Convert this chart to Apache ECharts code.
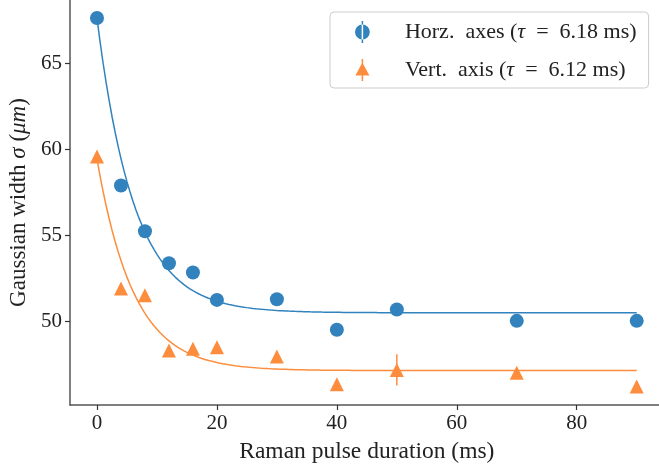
<!DOCTYPE html>
<html>
<head>
<meta charset="utf-8">
<script src="https://cdn.jsdelivr.net/npm/echarts@6/dist/echarts.min.js"></script>
<style>html,body{margin:0;padding:0;background:#fff}#c{width:659px;height:469px}</style>
</head>
<body>
<div id="c"></div>
<script>
// ---- data ----
var durations = [0, 4, 8, 12, 16, 20, 30, 40, 50, 70, 90];
var horzWidth = [67.62, 57.89, 55.23, 53.37, 52.83, 51.24, 51.28, 49.50, 50.68, 50.02, 50.02];
var horzErr   = [0, 0, 0, 0, 0, 0, 0, 0, 0, 0, 0];
var vertWidth = [59.58, 51.90, 51.51, 48.30, 48.40, 48.49, 47.95, 46.34, 47.17, 47.00, 46.20];
var vertErr   = [0, 0, 0, 0, 0, 0, 0, 0, 0.91, 0, 0];
// exponential fit parameters: y = A*exp(-t/tau) + C
var horzFit = {A: 17.12, tau: 6.18, C: 50.49};
var vertFit = {A: 12.30, tau: 6.12, C: 47.13};
var xTicks = [0, 20, 40, 60, 80];
var yTicks = [50, 55, 60, 65];
var horzName = 'Horz.  axes ({i|τ}\u2002=\u20026.18 ms)';
var vertName = 'Vert.  axis ({i|τ}\u2002=\u20026.12 ms)';
var blue = '#3182bd', orange = '#fd8d3c';

function fitCurve(p) {
  var pts = [];
  for (var i = 0; i <= 180; i++) {
    var t = i * 0.5;
    pts.push([t, p.A * Math.exp(-t / p.tau) + p.C]);
  }
  return pts;
}
function pairs(xs, ys) { return xs.map(function (x, i) { return [x, ys[i]]; }); }
function errData(xs, ys, es) {
  var out = [];
  xs.forEach(function (x, i) { if (es[i] > 0) out.push([x, ys[i], es[i]]); });
  return out;
}
function errSeries(data, color) {
  return {
    type: 'custom', silent: true, z: 3,
    data: data,
    renderItem: function (params, api) {
      var x = api.value(0), y = api.value(1), e = api.value(2);
      var p1 = api.coord([x, y - e]), p2 = api.coord([x, y + e]);
      return {type: 'line', shape: {x1: p1[0], y1: p1[1], x2: p2[0], y2: p2[1]},
              style: {stroke: color, lineWidth: 1.5}};
    }
  };
}

var FONT = 'Liberation Serif';
var chart = echarts.init(document.getElementById('c'));
var iconCircle = 'path://M6.75,0 h1.5 v22 h-1.5 Z M0.1,11 a7.4,7.4 0 1,0 14.8,0 a7.4,7.4 0 1,0 -14.8,0 Z';
var iconTri = 'path://M6.75,0 h1.5 v22 h-1.5 Z M7.5,3.5 L14.5,16.5 L0.5,16.5 Z';
chart.setOption({
  animation: false,
  textStyle: {fontFamily: FONT},
  grid: {left: 70, right: -4.7, top: 0, bottom: 64, containLabel: false, outerBoundsMode: 'none'},
  legend: {
    orient: 'vertical', left: 330, top: 12,
    padding: [9, 12, 7, 25],
    backgroundColor: '#fff', borderColor: '#cccccc', borderWidth: 1, borderRadius: 4,
    itemGap: 16, itemWidth: 15, itemHeight: 22,
    textStyle: {fontFamily: FONT, fontSize: 22, color: '#222', padding: [0, 0, 0, 30],
      rich: {i: {fontFamily: FONT, fontStyle: 'italic', fontSize: 22, color: '#222'}}},
    data: [{name: horzName, icon: iconCircle}, {name: vertName, icon: iconTri}]
  },
  xAxis: {
    type: 'value', min: -4.5, max: 94.5,
    name: 'Raman pulse duration (ms)', nameLocation: 'middle', nameGap: 35,
    nameTextStyle: {fontFamily: FONT, fontSize: 23.5, color: '#222'},
    axisLine: {show: true, onZero: false, lineStyle: {color: '#555', width: 1.5}},
    axisTick: {show: true, length: 5, lineStyle: {color: '#333', width: 1.2}, customValues: xTicks},
    axisLabel: {fontFamily: FONT, fontSize: 21, color: '#222', margin: 8, customValues: xTicks},
    splitLine: {show: false}
  },
  yAxis: {
    type: 'value', min: 45.13, max: 68.67,
    name: 'Gaussian width {i|σ} ({i|μm})', nameLocation: 'middle', nameGap: 36,
    nameTextStyle: {fontFamily: FONT, fontSize: 23, color: '#222',
      rich: {i: {fontFamily: FONT, fontStyle: 'italic', fontSize: 23, color: '#222'}}},
    axisLine: {show: true, onZero: false, lineStyle: {color: '#555', width: 1.5}},
    axisTick: {show: true, length: 5, lineStyle: {color: '#333', width: 1.2}, customValues: yTicks},
    axisLabel: {fontFamily: FONT, fontSize: 21, color: '#222', margin: 8, customValues: yTicks},
    splitLine: {show: false}
  },
  series: [
    {type: 'line', name: 'horzFit', data: fitCurve(horzFit), showSymbol: false, symbol: 'none',
     lineStyle: {color: blue, width: 1.5}, z: 1, silent: true},
    {type: 'line', name: 'vertFit', data: fitCurve(vertFit), showSymbol: false, symbol: 'none',
     lineStyle: {color: orange, width: 1.5}, z: 1, silent: true},
    {type: 'scatter', name: horzName, data: pairs(durations, horzWidth), symbol: 'circle',
     symbolSize: 14, itemStyle: {color: blue, opacity: 1}, z: 4},
    {type: 'scatter', name: vertName, data: pairs(durations, vertWidth), symbol: 'triangle',
     symbolSize: [14, 14], itemStyle: {color: orange, opacity: 1}, z: 4},
    errSeries(errData(durations, horzWidth, horzErr), blue),
    errSeries(errData(durations, vertWidth, vertErr), orange)
  ]
});
</script>
</body>
</html>
